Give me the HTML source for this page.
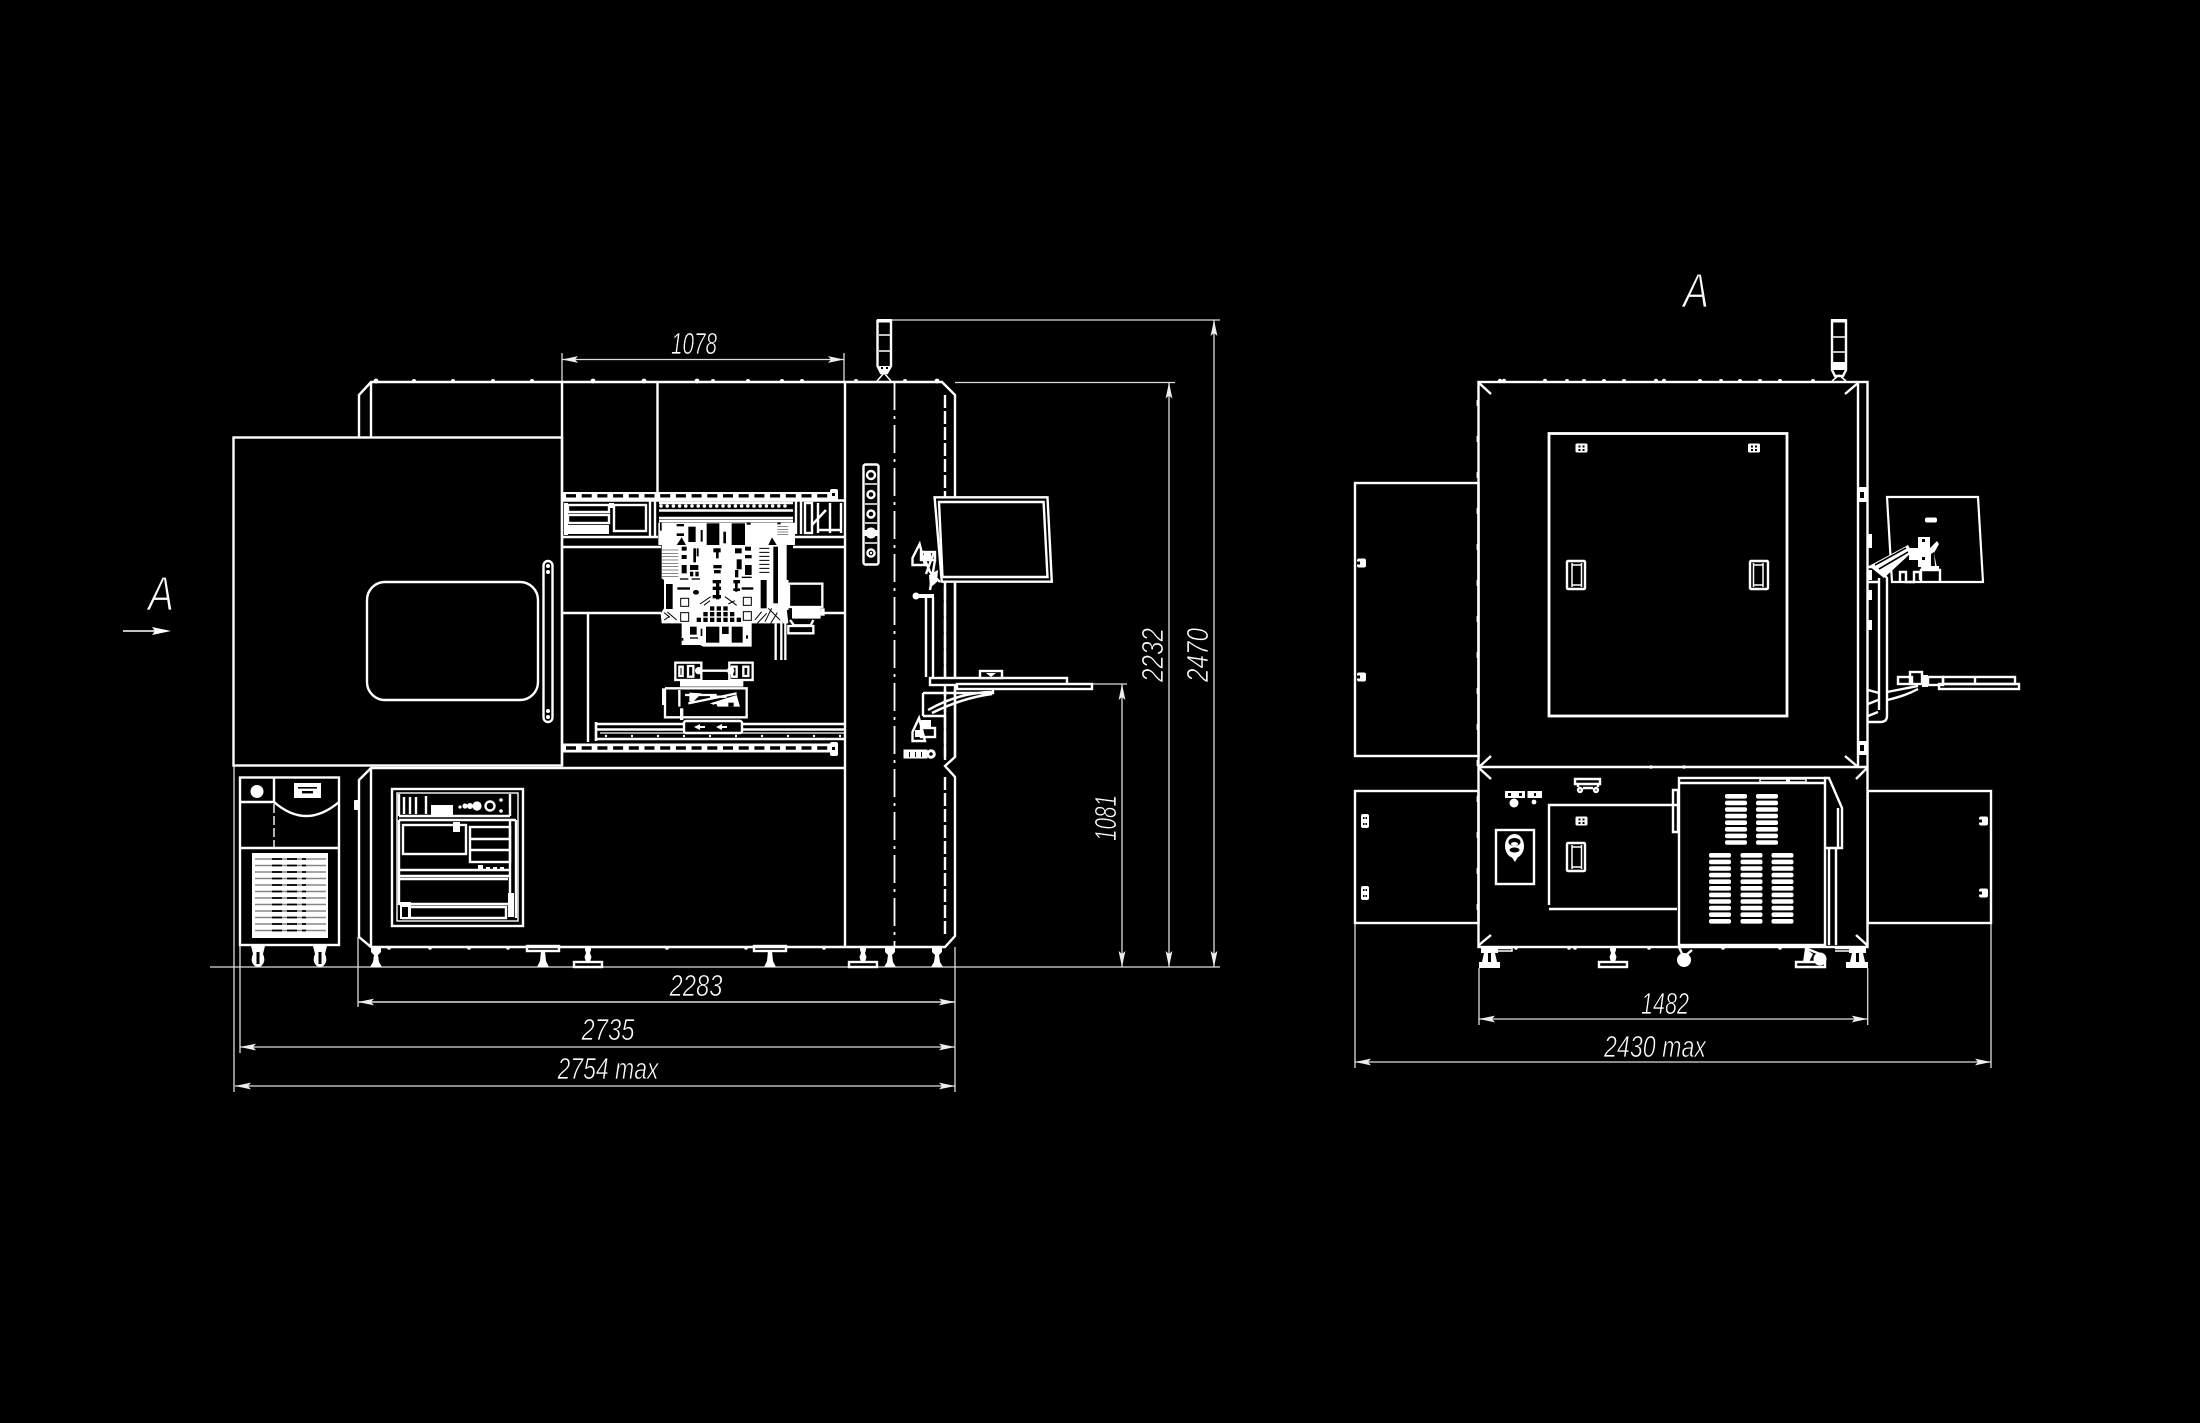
<!DOCTYPE html>
<html><head><meta charset="utf-8"><title>Drawing</title>
<style>
html,body{margin:0;padding:0;background:#000;width:2200px;height:1423px;overflow:hidden}
svg{display:block}
.m{stroke:#fff;stroke-width:2.4;fill:none}
.t{stroke:#fff;stroke-width:1.5;fill:none}
.d{stroke:#ddd;stroke-width:1.3;fill:none}
.w{fill:#fff;stroke:none}
.k{fill:#000;stroke:none}
text{font-family:"Liberation Sans",sans-serif;font-style:italic;fill:#fff;stroke:#000;stroke-width:.7;paint-order:fill;text-anchor:middle;font-size:31px}
</style></head><body>
<svg xmlns="http://www.w3.org/2000/svg" width="2200" height="1423" viewBox="0 0 2200 1423">
<defs>
<marker id="a" viewBox="0 0 16 8" refX="16" refY="4" markerWidth="16" markerHeight="8" markerUnits="userSpaceOnUse" orient="auto-start-reverse"><path d="M16 4L0 .6L3 4L0 7.4Z" fill="#eee"/></marker>
<g id="foot"><path class="w" d="M-5 0H5V5L2 8L3 15L6 20H-6L-3 15L-2 8L-5 5Z"/></g>
<g id="pfoot"><rect class="m" x="-16" y="-1" width="32" height="5"/><path class="w" d="M-2 4H2L3 14L6 20H-6L-3 14Z"/></g>
<g id="lev"><path class="w" d="M-3 0H3V3L2 6L3.5 10L2 15H-2L-3.5 10L-2 6L-3 3Z"/><rect class="m" x="-14" y="15" width="28" height="5"/></g>
<g id="cast"><path class="w" d="M-7 0H7L5 8Q7 12 6 16Q4 21 0 21Q-4 21 -6 16Q-7 12 -5 8Z"/><rect class="k" x="-1.5" y="6" width="3" height="12"/></g>
<g id="hand"><rect class="m" x="1" y="1" width="18" height="28" rx="1"/><path stroke="#fff" stroke-width="1.5" fill="none" d="M6 3V27M15.5 3V27M6 5H15.5M6 25H15.5"/></g>
<g id="sq"><rect class="w" x="-6" y="-4.5" width="12" height="9" rx="1.5"/><rect class="k" x="-3" y="-2.5" width="2" height="2"/><rect class="k" x="1" y="-2.5" width="2" height="2"/><rect class="k" x="-3" y="1" width="2" height="2"/><rect class="k" x="1" y="1" width="2" height="2"/></g>
<g id="kn"><rect class="w" x="-4" y="-4.5" width="9" height="9" rx="2"/><rect class="k" x="-4" y="-1.5" width="3" height="3"/></g>
<g id="kv"><rect class="w" x="-4" y="-7" width="8" height="14" rx="2"/><rect class="k" x="-2" y="-4" width="1.5" height="2"/><rect class="k" x=".5" y="-4" width="1.5" height="2"/><rect class="k" x="-2" y="2" width="1.5" height="2"/><rect class="k" x=".5" y="2" width="1.5" height="2"/></g>
<g id="pill"><rect class="w" x="0" y="0" width="22" height="4.6" rx="2"/></g>
<g id="col8"><use href="#pill" y="0"/><use href="#pill" y="6.6"/><use href="#pill" y="13.2"/><use href="#pill" y="19.8"/><use href="#pill" y="26.4"/><use href="#pill" y="33"/><use href="#pill" y="39.6"/><use href="#pill" y="46.2"/></g>
<g id="col11"><use href="#col8"/><use href="#pill" y="52.8"/><use href="#pill" y="59.4"/><use href="#pill" y="66"/></g>
</defs>
<rect width="2200" height="1423" fill="#000"/>

<!-- ================= LEFT VIEW ================= -->
<g class="d">
<path d="M562 353V382M844 353V382"/>
<path d="M892 320H1220M955 382.5H1175M210 967H1220M1093 684H1127"/>
<path d="M358 937V1007M955 947V1092M240 945V1053M234 766V1092"/>
<path marker-start="url(#a)" marker-end="url(#a)" d="M562 359.5H844"/>
<path marker-start="url(#a)" marker-end="url(#a)" d="M1214 320V967"/>
<path marker-start="url(#a)" marker-end="url(#a)" d="M1169 382.5V967"/>
<path marker-start="url(#a)" marker-end="url(#a)" d="M1122 684V967"/>
<path marker-start="url(#a)" marker-end="url(#a)" stroke-width="1.6" d="M358 1002H955"/>
<path marker-start="url(#a)" marker-end="url(#a)" d="M240 1047H955"/>
<path marker-start="url(#a)" marker-end="url(#a)" d="M235 1086H955"/>
</g>

<g class="m">
<path d="M359 437V395L371 382H942L955 395V757L945 766L955 777V936L945 947H371L359 937V780L371 768H845"/>
<path d="M371 382V437M371 768V947M845 382V947M657.5 382V492M562 382V766"/>
<rect x="233.5" y="437.5" width="328.5" height="328"/>
<rect x="367" y="582" width="171" height="118" rx="18"/>
<rect x="543.5" y="561" width="9" height="161" rx="4.5"/>
<path stroke-dasharray="13 3" d="M945 395V757M945 777V936"/>
<path d="M562 537H658M562 547H661M793 537H845M793 547H845M562 613H661M797 613H845M588 613V742"/>
</g>
<path fill="none" stroke="#fff" stroke-width="1.8" stroke-dasharray="28 6 3 6" d="M894.5 382V947"/>
<g fill="#fff">
<circle cx="376" cy="381" r="2.4"/><circle cx="414" cy="381" r="2"/><circle cx="453" cy="381" r="2"/><circle cx="493" cy="381" r="2"/><circle cx="532" cy="381" r="2"/><circle cx="593" cy="381" r="2.4"/><circle cx="644" cy="381" r="2.4"/><circle cx="697" cy="381" r="2.4"/><circle cx="713" cy="381" r="2"/><circle cx="748" cy="381" r="2"/><circle cx="782" cy="381" r="2"/><circle cx="802" cy="381" r="2"/><circle cx="856" cy="381" r="2"/><circle cx="905" cy="381" r="2"/><circle cx="937" cy="381" r="2.4"/>
<circle cx="548" cy="566" r="2"/><circle cx="548" cy="572" r="2"/><circle cx="548" cy="711" r="2"/><circle cx="548" cy="717" r="2"/>
</g>

<!-- tower -->
<g>
<path class="m" d="M877.5 321H891V366L887 373H881L877.5 366Z"/>
<rect class="w" x="877" y="319" width="15" height="3.5"/>
<path class="t" d="M879 335H890M879 351H890M884 373L877 381M884 373L891 381"/>
<path class="w" d="M879 366H890L888 372H881Z"/>
<rect class="k" x="881" y="367" width="2" height="2"/><rect class="k" x="886" y="367" width="2" height="2"/>
</g>

<!-- pushbutton panel -->
<g>
<rect class="m" x="863.5" y="464.5" width="15" height="100" rx="2"/>
<path class="t" d="M865 484H877M865 504H877M865 523H877M865 543H877"/>
<circle class="m" cx="871" cy="475" r="4"/>
<circle class="m" cx="871" cy="494.5" r="3.5"/>
<circle class="m" cx="871" cy="514" r="3.5"/>
<circle class="w" cx="871" cy="533" r="5.5"/><rect class="w" x="864" y="530" width="14" height="6"/>
<circle class="m" cx="871" cy="553" r="3.6"/><circle class="w" cx="871" cy="553" r="1.2"/>
</g>

<!-- top rail -->
<rect class="w" x="562" y="492" width="272" height="7.5"/>
<path stroke="#000" stroke-width="3.4" stroke-dasharray="10 5.7" d="M566 495.8H830"/>
<rect class="w" x="830" y="489" width="8" height="12" rx="2"/><rect class="k" x="832" y="493" width="3" height="3"/>
<g class="m">
<path d="M562 500.5H845" stroke-width="2.6"/>
<rect x="568" y="505" width="41" height="7"/>
<rect x="568" y="515" width="41" height="8"/>
<rect x="614" y="505" width="32" height="26"/>
<path d="M650 500V537M655 500V537"/>
<rect x="805" y="503" width="7" height="30"/>
<path d="M818 503V533M830 503V533M841 503V533M812 525L826 510M818 530H842"/>
<path d="M659 503H793M659 510.5H793M659 518H793M659 521H793M796 500V534M801 500V534"/>
</g>
<rect class="w" x="566" y="525" width="43" height="9"/>
<rect class="w" x="564" y="503" width="4" height="32"/>
<rect class="w" x="609" y="503" width="5" height="5"/>
<path stroke="#fff" stroke-width="3.6" stroke-linecap="round" stroke-dasharray="0 6.2" fill="none" d="M661 506H790"/>

<!-- head assembly -->
<g transform="translate(640 480) scale(.33333)">
<path class="w" d="M55 128H465V195H440V385L445 430H335V500H190L180 495H125V430H65L62 400L72 385V300L65 295V195H55Z"/>
<g class="k">
<rect x="145" y="140" width="22" height="46"/><rect x="200" y="130" width="38" height="65"/><rect x="275" y="130" width="40" height="65"/><rect x="250" y="155" width="8" height="35"/><rect x="182" y="150" width="6" height="35"/><rect x="110" y="132" width="22" height="7"/><rect x="110" y="160" width="22" height="8"/>
<path d="M385 195L396 172L410 195Z"/><path d="M110 195L125 172L138 195Z"/>
<rect x="60" y="128" width="5" height="24"/><rect x="320" y="128" width="12" height="6"/><rect x="412" y="128" width="10" height="5"/>
<rect x="400" y="200" width="14" height="170"/><rect x="362" y="300" width="18" height="85"/><rect x="78" y="312" width="20" height="75"/>
<rect x="125" y="200" width="15" height="12"/><rect x="125" y="225" width="15" height="12"/><rect x="125" y="255" width="15" height="25"/><rect x="150" y="255" width="25" height="15"/><rect x="150" y="275" width="10" height="14"/><rect x="166" y="275" width="10" height="14"/><rect x="160" y="205" width="8" height="42"/><rect x="170" y="205" width="6" height="24"/>
<rect x="285" y="205" width="20" height="15"/><rect x="290" y="238" width="15" height="30"/><rect x="315" y="255" width="20" height="30"/><rect x="315" y="225" width="20" height="10"/><rect x="315" y="200" width="18" height="12"/><rect x="285" y="270" width="10" height="22"/>
<rect x="220" y="205" width="22" height="12"/><rect x="228" y="205" width="8" height="30"/><rect x="220" y="255" width="25" height="10"/><rect x="222" y="270" width="20" height="10"/><rect x="228" y="300" width="10" height="58"/><rect x="218" y="300" width="25" height="10"/><rect x="218" y="320" width="25" height="10"/><rect x="218" y="345" width="25" height="10"/><rect x="280" y="300" width="20" height="10"/><rect x="285" y="300" width="8" height="35"/><rect x="280" y="325" width="20" height="8"/>
<rect x="112" y="322" width="38" height="7"/><rect x="305" y="322" width="35" height="7"/><ellipse cx="168" cy="337" rx="9" ry="7"/>
<rect x="120" y="295" width="25" height="4"/><rect x="155" y="295" width="25" height="4"/><rect x="305" y="290" width="30" height="4"/>
<rect x="198" y="440" width="40" height="48"/><rect x="275" y="440" width="33" height="48"/><rect x="150" y="440" width="20" height="24"/><rect x="246" y="440" width="20" height="22"/><rect x="182" y="446" width="5" height="22"/><rect x="150" y="472" width="24" height="4"/><rect x="318" y="466" width="6" height="10"/><rect x="125" y="474" width="5" height="8"/>
<rect x="210" y="379" width="13" height="13"/><rect x="230" y="379" width="13" height="13"/><rect x="250" y="379" width="13" height="13"/>
<rect x="190" y="396" width="13" height="13"/><rect x="210" y="396" width="13" height="13"/><rect x="230" y="396" width="13" height="13"/><rect x="250" y="396" width="13" height="13"/><rect x="270" y="396" width="13" height="13"/>
<rect x="170" y="413" width="13" height="13"/><rect x="190" y="413" width="13" height="13"/><rect x="210" y="413" width="13" height="13"/><rect x="230" y="413" width="13" height="13"/><rect x="250" y="413" width="13" height="13"/><rect x="270" y="413" width="13" height="13"/><rect x="290" y="413" width="13" height="13"/>
</g>
<g fill="none" stroke="#000" stroke-width="3">
<rect x="122" y="355" width="24" height="24"/><rect x="122" y="398" width="24" height="26"/><rect x="310" y="352" width="24" height="24"/><rect x="310" y="395" width="24" height="26"/>
<path d="M72 398L90 412M82 396L110 420M72 420L88 410M345 420L365 395M352 430L380 400M385 385L428 428M395 385L375 425M412 398L392 430M180 372L212 350M192 376L210 362M255 350L290 376M265 372L285 362M358 205H388M358 217H388M358 229H388M358 241H388M358 253H388M358 265H388M358 277H388"/>
<path stroke-width="1.4" d="M66 210H115M66 220H115M66 230H115M66 240H115M66 250H115M66 260H115M66 270H115M66 280H115M66 290H115M412 140H445M412 148H445M412 156H445M412 164H445"/>
</g>
<rect x="447" y="311" width="100" height="70" fill="#000" stroke="#fff" stroke-width="7"/>
<rect class="w" x="456" y="378" width="86" height="38" rx="3"/><rect class="w" x="542" y="385" width="12" height="22"/>
<g fill="none" stroke="#fff" stroke-width="7">
<path d="M450 420L462 436H512L520 420M445 438H520V460H445Z"/>
<path d="M407 430V540M424 390V540M436 340V540M442 300V390"/>
</g>
</g>

<!-- middle / lower modules -->
<g transform="translate(640 640) scale(.33333)">
<g fill="none" stroke="#fff" stroke-width="7">
<rect x="106" y="68" width="78" height="52"/>
<rect x="268" y="68" width="70" height="52"/>
<path d="M184 92H268"/>
<path d="M128 80V108H118V80ZM160 78V110H144V78ZM290 80V110H276V80ZM325 80V108H310V80Z"/>
<path d="M75 145H320V232H130M75 145V232H130M118 150V200M135 165H230M145 190L290 160M210 170H260"/>
</g>
<rect class="w" x="120" y="120" width="190" height="20"/>
<circle class="w" cx="176" cy="92" r="11"/><circle class="w" cx="272" cy="92" r="11"/>
<path class="w" d="M148 158L185 160L160 185L148 185Z"/>
<path class="w" d="M210 190L290 165L300 200H235Z"/>
<rect class="k" x="265" y="188" width="16" height="12"/><circle class="k" cx="226" cy="197" r="5"/>
<rect class="w" x="66" y="145" width="12" height="50"/><rect class="w" x="120" y="205" width="10" height="35"/>
<rect class="k" x="84" y="158" width="28" height="70"/>
</g>
<!-- lower rail -->
<g class="m">
<path d="M596 724H845M596 729.5H845M596 739H845M596 722V741" stroke-width="2.6"/>
<path d="M600 733H845" stroke-width="1.2"/>
</g>
<path stroke="#fff" stroke-width="2.2" fill="none" stroke-dasharray="2 24" d="M605 736H845"/>
<rect x="684" y="721" width="58" height="12" rx="2" fill="#000" stroke="#fff" stroke-width="2.4"/>
<path class="w" d="M694 727L700 724V726H705V728H700V730ZM716 727L722 724V726H727V728H722V730Z"/>
<rect class="w" x="562" y="743.5" width="272" height="9"/>
<path stroke="#000" stroke-width="3.6" stroke-dasharray="10 5.7" d="M566 748H830"/>
<rect class="w" x="830" y="742" width="8" height="14" rx="2"/><rect class="k" x="832" y="747" width="3" height="3"/>

<!-- monitor -->
<path d="M934.6 497.3H1047.5L1051.8 581.7H941.8Z" fill="#000" stroke="#fff" stroke-width="2.4"/>
<path d="M939 502H1043.6L1047.5 577H942.5Z" fill="none" stroke="#fff" stroke-width="2.4"/>
<!-- arm upper -->
<g class="m">
<path d="M919.6 544L912.5 558V565H925Z"/>
<rect x="921" y="552" width="14" height="8"/>
<path d="M925 560L930 572L940 582M934 552L926 574M926 597V677M933 597V677M955 582V677M945 582V677"/>
<path d="M935 560L930 590"/>
</g>
<rect class="w" x="914" y="594" width="20" height="4"/><circle class="w" cx="916" cy="596" r="3.5"/>
<rect class="w" x="924" y="553" width="7" height="6"/><path class="w" d="M929 575L938 570L937 582L930 588Z"/>
<!-- tray -->
<g class="m">
<rect x="930" y="678" width="137" height="7" fill="#000"/>
<rect x="957" y="684" width="135" height="5" fill="#000"/>
<rect x="980" y="671" width="22" height="7" fill="#000"/>
<path d="M923 693H993V689M923 693V716M928 710Q960 692 993 692M932 713Q962 698 992 694M923 716H945"/>
</g>
<path class="w" d="M986 673H996L991 677Z"/>
<g class="m">
<path d="M945 689V760M955 689V757"/>
<path d="M919 718L912.5 732V741H925Z"/><rect x="921" y="728" width="14" height="9"/>
</g>
<rect class="w" x="921" y="720" width="10" height="7"/><rect class="w" x="915" y="730" width="8" height="7"/>
<rect class="w" x="903.5" y="749.5" width="24" height="9"/><circle class="w" cx="931" cy="754" r="4.8"/><rect class="k" x="909" y="752" width="1" height="5"/><rect class="k" x="915" y="752" width="1" height="5"/><rect class="k" x="921" y="752" width="1" height="5"/><circle class="k" cx="931" cy="754" r="1.8"/>

<!-- chiller -->
<g class="m">
<rect x="240" y="777.5" width="99" height="167.5"/>
<path d="M240 802H274M274 777V802M274 802Q306 830 339 802M240 848H339"/>
<path stroke-width="1.4" stroke-dasharray="9 3" d="M274 804V848"/>
</g>
<circle class="w" cx="257" cy="791.5" r="6.5"/>
<rect class="w" x="294" y="783" width="27" height="15"/><rect class="k" x="298" y="787" width="19" height="1.6"/><rect class="k" x="302" y="791" width="11" height="2.4"/>
<rect class="w" x="252" y="853" width="76" height="85"/>
<path stroke="#888" stroke-width="1.6" fill="none" d="M255 859H326M255 865.5H326M255 872H326M255 878.5H326M255 885H326M255 891.5H326M255 898H326M255 904.5H326M255 911H326M255 917.5H326M255 924H326M255 930.5H326"/>
<path stroke="#000" stroke-width="1.8" fill="none" stroke-dasharray="10 5" d="M272 859H306M272 865.5H306M272 872H306M272 878.5H306M272 885H306M272 891.5H306M272 898H306M272 904.5H306M272 911H306M272 917.5H306M272 924H306M272 930.5H306"/>
<use href="#cast" x="258" y="946"/><use href="#cast" x="320" y="946"/>

<!-- controller cabinet -->
<g class="m">
<rect x="392" y="789" width="131" height="137"/>
<rect x="397" y="793" width="121" height="128" stroke-width="1.4"/>
<path d="M399 794V816M510 794V816M399 816H510M399 820H516"/>
<rect x="403" y="825" width="63" height="29"/>
<rect x="470" y="827" width="40" height="35"/>
<path d="M470 839H510M470 850H510M399 820V905M510 820V905M516 820V918M399 870H510M399 876H510M399 879H508M399 904H510M402 907H506V918H402"/>
<path d="M404 797V814M410 797V814M416 797V814M426 796V814"/>
</g>
<rect class="w" x="431" y="805" width="22" height="10"/>
<circle class="w" cx="460" cy="807" r="1.6"/><circle class="w" cx="465" cy="806" r="2.6"/><circle class="w" cx="470" cy="806" r="3"/><circle class="w" cx="477" cy="806" r="4.6"/><circle class="m" cx="490" cy="806" r="4.5"/><circle class="w" cx="501" cy="800" r="1.8"/><circle class="w" cx="501" cy="811" r="1.8"/>
<rect class="w" x="453" y="822" width="7" height="10"/>
<rect class="w" x="478" y="865" width="5" height="5"/><rect class="w" x="486" y="867" width="4" height="3"/><rect class="w" x="493" y="867" width="4" height="3"/><rect class="w" x="500" y="867" width="4" height="3"/>
<rect class="w" x="400" y="902" width="11" height="17"/><rect class="k" x="402" y="907" width="6" height="10"/>
<rect class="w" x="508" y="893" width="6" height="24"/>

<!-- feet -->
<use href="#foot" x="376" y="947"/><use href="#pfoot" x="543" y="947"/><use href="#lev" x="588" y="947"/><use href="#pfoot" x="770" y="947"/><use href="#lev" x="863" y="947"/><use href="#foot" x="890" y="947"/><use href="#foot" x="937" y="947"/>
<g fill="#fff"><circle cx="389" cy="948" r="1.8"/><circle cx="430" cy="948" r="1.8"/><circle cx="469" cy="948" r="1.8"/><circle cx="508" cy="948" r="1.8"/><circle cx="667" cy="948" r="1.8"/><circle cx="746" cy="948" r="1.8"/><circle cx="824" cy="948" r="1.8"/></g>
<rect class="w" x="354" y="800" width="5" height="10" rx="1"/>

<!-- arrow A -->
<path class="t" d="M123 631H155"/><path class="w" d="M171 631L152 627L155 631L152 635Z"/>
<text x="161" y="610" textLength="26" lengthAdjust="spacingAndGlyphs" style="font-size:48px;stroke-width:1.3">A</text>

<!-- left dim text -->
<text x="694" y="354" textLength="46" lengthAdjust="spacingAndGlyphs">1078</text>
<text x="696" y="996" textLength="53" lengthAdjust="spacingAndGlyphs">2283</text>
<text x="608" y="1040" textLength="53" lengthAdjust="spacingAndGlyphs">2735</text>
<text x="608" y="1079" textLength="101" lengthAdjust="spacingAndGlyphs">2754 max</text>
<text transform="rotate(-90 1152 655)" x="1152" y="666" textLength="54" lengthAdjust="spacingAndGlyphs">2232</text>
<text transform="rotate(-90 1197 655)" x="1197" y="666" textLength="54" lengthAdjust="spacingAndGlyphs">2470</text>
<text transform="rotate(-90 1105 818)" x="1105" y="829" textLength="46" lengthAdjust="spacingAndGlyphs">1081</text>

<!-- ================= RIGHT VIEW ================= -->
<g class="d">
<path d="M1479 968V1025M1867.7 968V1025M1355 923V1068M1991 923V1068"/>
<path marker-start="url(#a)" marker-end="url(#a)" d="M1479 1019H1867.7"/>
<path marker-start="url(#a)" marker-end="url(#a)" d="M1355 1062H1991"/>
</g>
<text x="1696" y="307" textLength="26" lengthAdjust="spacingAndGlyphs" style="font-size:48px;stroke-width:1.3">A</text>
<text x="1665" y="1014" textLength="48" lengthAdjust="spacingAndGlyphs">1482</text>
<text x="1655" y="1057" textLength="102" lengthAdjust="spacingAndGlyphs">2430 max</text>

<g class="m">
<rect x="1478.5" y="382" width="389" height="565"/>
<path d="M1858 382V767M1479 767H1868"/>
<rect x="1549" y="433.5" width="238" height="282.5" stroke-width="2.8"/>
<path d="M1479 383L1491 394M1858 383L1845 394M1479 767L1491 756M1858 767L1845 756M1479 768L1491 779M1867 768L1856 779M1479 945L1491 935M1867 945L1856 935"/>
<rect x="1355" y="483" width="123.5" height="273"/>
<rect x="1355" y="791" width="123.5" height="132"/>
<rect x="1867.7" y="791" width="123.3" height="132"/>
<rect x="1496" y="830" width="38" height="54"/>
<path d="M1549 905V805H1677M1549 909H1677"/>
<rect x="1679" y="778" width="146" height="167" fill="#000"/>
<path d="M1679 783H1824M1824 778H1829L1842 808V848H1825M1838 808V848M1829 848V945M1836 848V945"/>
<path d="M1673 790H1678V832H1673Z"/>
</g>
<path class="t" d="M1760 779H1806V782H1760Z"/>
<rect class="w" x="1786" y="777" width="4" height="5"/>
<g fill="#fff"><circle cx="1500" cy="381" r="2.2"/><circle cx="1504" cy="381" r="2.2"/><circle cx="1545" cy="381" r="2.2"/><circle cx="1567" cy="381" r="2"/><circle cx="1584" cy="381" r="2"/><circle cx="1604" cy="381" r="2"/><circle cx="1624" cy="381" r="2"/><circle cx="1656" cy="381" r="2.2"/><circle cx="1664" cy="381" r="2.2"/><circle cx="1700" cy="381" r="2"/><circle cx="1721" cy="381" r="2"/><circle cx="1740" cy="381" r="2"/><circle cx="1760" cy="381" r="2"/><circle cx="1780" cy="381" r="2"/><circle cx="1813" cy="381" r="2"/></g>
<path stroke="#fff" stroke-width="1.8" stroke-dasharray="6 30" d="M1477.5 400V940" fill="none"/>
<!-- tower right -->
<path class="m" d="M1832 321H1846V370L1843 376H1835L1832 370Z"/>
<rect class="w" x="1831" y="319" width="16" height="3.5"/>
<path class="t" d="M1833 337H1845M1833 352H1845M1839 375L1832 381M1839 375L1846 381"/>
<path class="w" d="M1832 362H1846V370H1832Z"/>
<!-- door hardware -->
<use href="#sq" x="1581.5" y="448"/><use href="#sq" x="1754" y="448"/><use href="#sq" x="1581.5" y="821"/>
<use href="#hand" x="1566" y="560"/><use href="#hand" transform="translate(1769 560) scale(-1 1)"/><use href="#hand" x="1566" y="842"/>
<use href="#kn" x="1361" y="563"/><use href="#kn" x="1361" y="677"/>
<use href="#kv" x="1365" y="821"/><use href="#kv" x="1365" y="893"/>
<use href="#kn" x="1983" y="821"/><use href="#kn" x="1983" y="893"/>
<g class="w"><rect x="1868" y="534" width="4" height="14"/><rect x="1868" y="570" width="4" height="10"/><rect x="1868" y="590" width="4" height="10"/><rect x="1868" y="620" width="4" height="10"/><rect x="1857" y="487" width="11" height="4"/></g>
<rect class="w" x="1858" y="488" width="10" height="14"/><rect class="k" x="1860" y="492" width="4" height="6"/>
<rect class="w" x="1858" y="741" width="10" height="14"/><rect class="k" x="1860" y="745" width="4" height="6"/>
<!-- monitor rear -->
<path d="M1887 497H1978L1983 582H1892Z" fill="#000" stroke="#fff" stroke-width="2.2"/>
<rect class="w" x="1925" y="517.5" width="12" height="5" rx="2"/>
<g class="m">
<path d="M1867 567H1878L1887 578V716Q1887 722 1880 722H1868"/>
<path d="M1879 578V710M1868 582H1879"/>
<path d="M1900 582V572H1906V582H1914V572H1920V580M1921 582V570H1940V582"/>
</g>
<path d="M1869 566L1908 545L1912 552L1884 578Z" fill="#fff"/>
<path d="M1875 565L1906 548M1879 569L1908 552" stroke="#000" stroke-width="1.6" fill="none"/>
<rect class="w" x="1918" y="537" width="12" height="30"/><rect class="k" x="1922" y="539" width="3" height="3"/><rect class="k" x="1922" y="557" width="3" height="3"/>
<path class="w" d="M1930 548L1937 541L1939 544L1934 553L1937 568L1930 568Z"/><path class="k" d="M1931 554L1934 552L1935 566L1931 566Z"/>
<rect class="w" x="1909" y="548" width="9" height="12"/><rect class="w" x="1921" y="566" width="18" height="3"/>
<!-- tray rear -->
<g class="m">
<rect x="1898" y="677" width="14" height="7"/>
<rect x="1910" y="672" width="12" height="12"/>
<rect x="1928" y="677" width="15" height="8"/>
<rect x="1943" y="677" width="72" height="7"/>
<rect x="1939" y="684" width="80" height="5"/>
<path d="M1887 700Q1905 696 1918 689M1887 692L1918 686M1868 690L1879 693M1868 704L1878 700M1868 716L1878 712M1975 677V684"/>
</g>
<rect class="w" x="1922" y="675" width="6" height="12"/>
<!-- estop & switches -->
<rect class="w" x="1505" y="791" width="20" height="7"/><rect class="k" x="1508" y="793" width="3" height="3"/><rect class="k" x="1519" y="793" width="3" height="3"/>
<rect class="w" x="1527.5" y="791" width="14.5" height="7"/><rect class="k" x="1534" y="793" width="2" height="3"/>
<circle class="w" cx="1514" cy="803" r="4.5"/><circle class="w" cx="1534" cy="802" r="2.4"/>
<path class="m" d="M1575 779H1600V784H1575Z"/><circle class="m" cx="1580" cy="790" r="2"/><circle class="m" cx="1596" cy="790" r="2"/><path class="m" d="M1578 784V787M1598 784V787M1583 788H1593"/>
<ellipse class="w" cx="1514.5" cy="846" rx="9.5" ry="12"/><path class="w" d="M1507 850H1522L1515 862Z"/>
<ellipse fill="#000" cx="1514.5" cy="842" rx="6" ry="4"/><ellipse fill="#000" cx="1514.5" cy="850" rx="5" ry="2.5"/><ellipse class="w" cx="1514.5" cy="844" rx="3.5" ry="2"/>
<!-- vents -->
<use href="#col8" x="1725" y="794"/><use href="#col8" x="1756" y="794"/>
<use href="#col11" x="1709" y="853"/><use href="#col11" x="1740.5" y="853"/><use href="#col11" x="1771.5" y="853"/>
<!-- feet right -->
<g>
<path class="w" d="M1481 948H1498V953H1495L1497 962H1500V968H1479V962H1482L1484 953H1481Z"/><rect class="k" x="1488" y="953" width="3" height="9"/>
<path class="t" d="M1494 948.5H1512V951H1494"/>
<use href="#lev" x="1613" y="947"/>
<circle class="w" cx="1684" cy="960" r="7"/><path class="m" d="M1692 950L1685 956M1679 947L1683 956"/>
<path class="m" d="M1796 967H1825V962H1796Z"/><circle class="w" cx="1820" cy="959" r="6.5"/><path class="w" d="M1805 948L1813 954L1809 962H1803Z"/><path class="m" d="M1805 948L1820 954"/>
<path class="w" d="M1849 948H1866V953H1863L1865 962H1868V968H1846V962H1850L1852 953H1849Z"/><rect class="k" x="1856" y="953" width="3" height="9"/>
<path class="t" d="M1835 948.5H1852V951H1835"/>
</g>
<g fill="#fff"><circle cx="1516" cy="948" r="1.8"/><circle cx="1569" cy="948" r="1.8"/><circle cx="1575" cy="948" r="1.8"/><circle cx="1649" cy="948" r="1.8"/><circle cx="1723" cy="948" r="1.8"/><circle cx="1780" cy="948" r="1.8"/><circle cx="1651" cy="767" r="1.8"/><circle cx="1684" cy="767" r="1.8"/></g>
</svg>
</body></html>
